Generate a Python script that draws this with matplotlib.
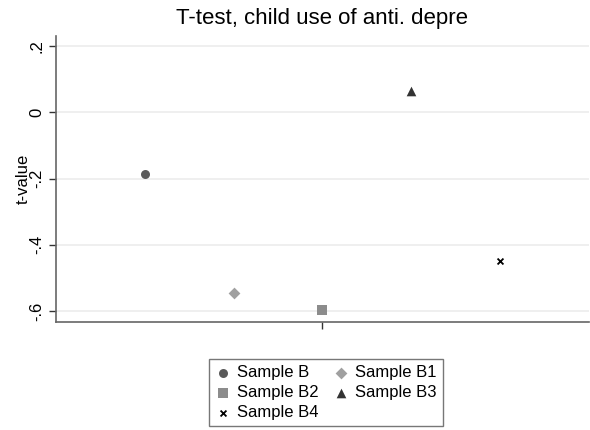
import matplotlib
matplotlib.use("Agg")
from matplotlib import pyplot as plt

# data
labels = ["Sample B", "Sample B1", "Sample B2", "Sample B3", "Sample B4"]
positions = [1, 2, 3, 4, 5]
t_values = [-0.186, -0.544, -0.597, 0.063, -0.448]
yticks = [0.2, 0.0, -0.2, -0.4, -0.6]
ytick_labels = [".2", "0", "-.2", "-.4", "-.6"]

markers = ["o", "D", "s", "^", "x"]
colors = ["#5a5a5a", "#a0a0a0", "#8c8c8c", "#333333", "#000000"]
sizes = [42, 36, 42, 48, 18]

plt.rcParams["font.family"] = ["Liberation Sans", "DejaVu Sans"]

fig = plt.figure(figsize=(5.9, 4.3), dpi=100)
ax = fig.add_axes([0.095, 0.251, 0.903, 0.665])

handles = []
for x, y, lab, m, c, s in zip(positions, t_values, labels, markers, colors, sizes):
    h = ax.scatter(x, y, marker=m, color=c, s=s, label=lab, zorder=3,
                   linewidths=1.3 if m == "x" else 0)
    handles.append(h)

ax.set_xlim(0, 6)
ax.set_ylim(-0.633, 0.230)
ax.set_xticks([3])
ax.set_xticklabels([""])
ax.set_yticks(yticks)
ax.set_yticklabels(ytick_labels, rotation=90, va="center")

ax.grid(axis="y", color="#ececec", linewidth=1.2)
ax.set_axisbelow(True)
for side in ["top", "right"]:
    ax.spines[side].set_visible(False)
for side in ["left", "bottom"]:
    ax.spines[side].set_color("#666666")
    ax.spines[side].set_linewidth(1.2)
ax.tick_params(axis="both", colors="#333333", labelcolor="black",
               labelsize=12, length=5, width=1)

ax.set_ylabel("t-value", fontsize=12)
ax.yaxis.set_label_coords(-0.048, 0.5)
ax.set_title("T-test, child use of anti. depre", fontsize=16, pad=9)

# legend filled row by row like the original: B, B1 / B2, B3 / B4
order = [0, 2, 4, 1, 3]
leg = fig.legend([handles[i] for i in order], [labels[i] for i in order],
                 loc="upper center", bbox_to_anchor=(326 / 590, 1 - 351 / 430),
                 ncol=2, fontsize=12, frameon=True, fancybox=False,
                 edgecolor="#555555", handletextpad=0.4, columnspacing=0.9,
                 labelspacing=0.3, borderpad=0.35, handlelength=0.9)
leg.get_frame().set_linewidth(1.0)

fig.savefig("out.png", dpi=100)
